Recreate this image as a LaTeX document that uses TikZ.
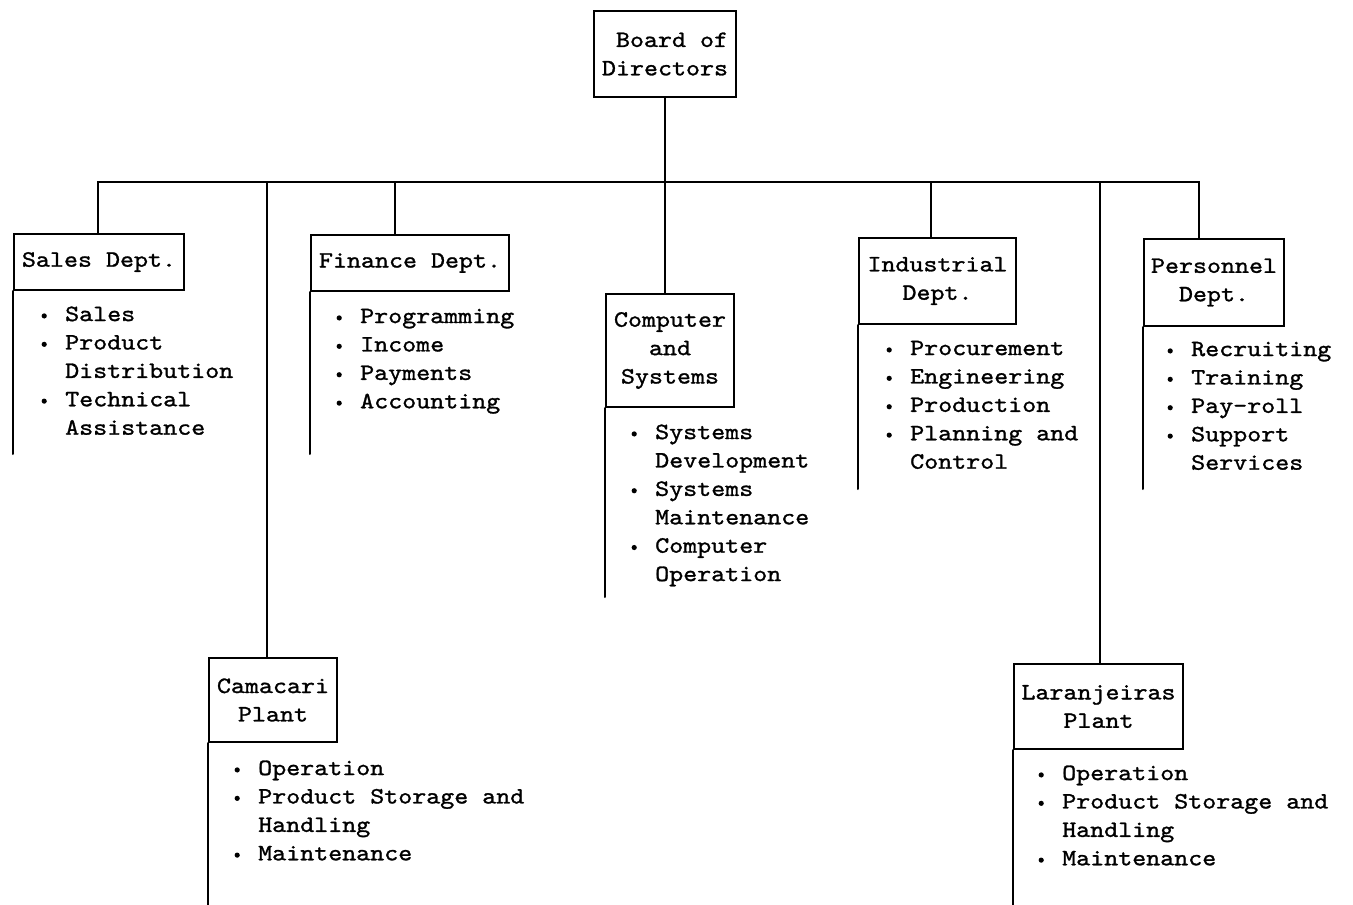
\documentclass[tikz,border=0pt]{standalone}
\usepackage{fontspec}
\newfontfamily\typer{lmmono10-regular}[Extension=.otf, FakeStretch=1.14, FakeBold=1.2]
% a round dot one character wide, followed by a space
\newcommand\blt{\makebox[\fontcharwd\font`\.][c]{\tikz[baseline=0pt]\fill (0pt,0.22em) circle (2.6pt);}\ }
\newcommand\hng{\hphantom{.\ }}
\begin{document}
\begin{tikzpicture}[x=1pt,y=-1pt,
  every node/.style={font={\typer\fontsize{23.4}{28.4}\selectfont}},
  orgline/.style={line width=2pt, line cap=round},
  unitbox/.style={draw, line width=2pt, anchor=north west, inner sep=0pt, align=center},
  duties/.style={anchor=north west, inner sep=0pt, align=left}]
\useasboundingbox (0,0) rectangle (1353,905);

% heading boxes
\node[unitbox, minimum width=142pt, minimum height=86pt, align=right] (board) at (593,10) {Board of\\Directors};
\node[unitbox, minimum width=170pt, minimum height=56pt] (sales) at (13,233) {Sales Dept.};
\node[unitbox, minimum width=198pt, minimum height=56pt] (finance) at (310,234) {Finance Dept.};
\node[unitbox, minimum width=128pt, minimum height=113pt] (computer) at (605,293) {Computer\\and\\Systems};
\node[unitbox, minimum width=157pt, minimum height=86pt] (industrial) at (858,237) {Industrial\\Dept.};
\node[unitbox, minimum width=140pt, minimum height=87pt] (personnel) at (1143,238) {Personnel\\Dept.};
\node[unitbox, minimum width=128pt, minimum height=84pt] (camacari) at (208,657) {Camacari\\Plant};
\node[unitbox, minimum width=169pt, minimum height=85pt] (laranjeiras) at (1013,663) {Laranjeiras\\Plant};

% duty lists
\node[duties] (salesL) at (37,301) {\strut\blt Sales\\\blt Product\\\hng Distribution\\\blt Technical\\\hng Assistance};
\node[duties] (financeL) at (332,303) {\strut\blt Programming\\\blt Income\\\blt Payments\\\blt Accounting};
\node[duties] (computerL) at (627,419) {\strut\blt Systems\\\hng Development\\\blt Systems\\\hng Maintenance\\\blt Computer\\\hng Operation};
\node[duties] (industrialL) at (882,335) {\strut\blt Procurement\\\blt Engineering\\\blt Production\\\blt Planning and\\\hng Control};
\node[duties] (personnelL) at (1163,336) {\strut\blt Recruiting\\\blt Training\\\blt Pay-roll\\\blt Support\\\hng Services};
\node[duties] (camacariL) at (230,755) {\strut\blt Operation\\\blt Product Storage and\\\hng Handling\\\blt Maintenance};
\node[duties] (laranjeirasL) at (1034,760) {\strut\blt Operation\\\blt Product Storage and\\\hng Handling\\\blt Maintenance};

% drop points on the bus
\coordinate (dSales) at (98,182);
\coordinate (dCam) at (267,182);
\coordinate (dFin) at (395,182);
\coordinate (dInd) at (931,182);
\coordinate (dLar) at (1100,182);
\coordinate (dPer) at (1199,182);

% bus and drops
\draw[orgline] (dSales |- sales.north) -- (dSales) -- (dPer) -- (dPer |- personnel.north);
\draw[orgline] (board.south) -- (board.south |- computer.north);
\draw[orgline] (dCam) -- (dCam |- camacari.north);
\draw[orgline] (dFin) -- (dFin |- finance.north);
\draw[orgline] (dInd) -- (dInd |- industrial.north);
\draw[orgline] (dLar) -- (dLar |- laranjeiras.north);

% side rules beside the duty lists
\draw[orgline] (sales.south west) -- ++(0,163);
\draw[orgline] (finance.south west) -- ++(0,162);
\draw[orgline] (computer.south west) -- ++(0,189);
\draw[orgline] (industrial.south west) -- ++(0,164);
\draw[orgline] (personnel.south west) -- ++(0,162);
\draw[orgline] (camacari.south west) -- ++(0,170);
\draw[orgline] (laranjeiras.south west) -- ++(0,165);
\end{tikzpicture}
\end{document}
